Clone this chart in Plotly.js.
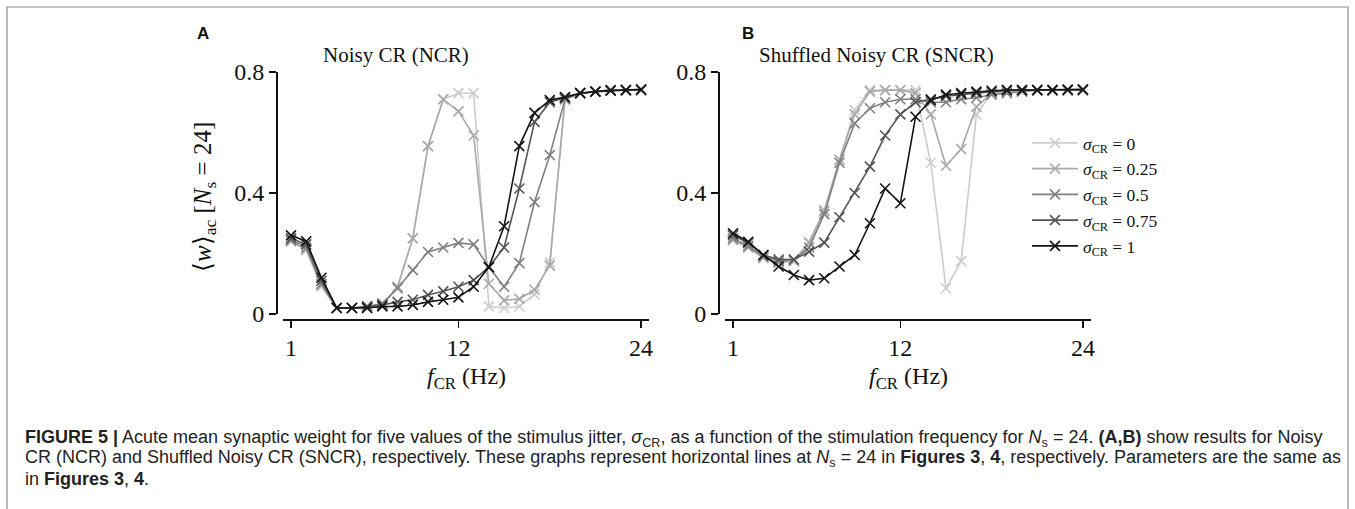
<!DOCTYPE html>
<html>
<head>
<meta charset="utf-8">
<script src="https://cdn.plot.ly/plotly-3.0.1.min.js"></script>
<style>
  html, body { margin: 0; padding: 0; background: #ffffff; }
  #chart { width: 1355px; height: 509px; }
</style>
</head>
<body>
<div id="chart"></div>
<script>
// ---- data ----
const freq = [1,2,3,4,5,6,7,8,9,10,11,12,13,14,15,16,17,18,19,20,21,22,23,24];
const sigmaLabels = ['0', '0.25', '0.5', '0.75', '1'];

// Panel A: Noisy CR (NCR)
const ncr_s0   = [0.24,0.21,0.09,0.02,0.02,0.02,0.03,0.09,0.25,0.555,0.71,0.73,0.73,0.025,0.02,0.025,0.065,0.17,0.71,0.73,0.735,0.74,0.74,0.74];
const ncr_s025 = [0.24,0.215,0.095,0.02,0.02,0.02,0.03,0.09,0.25,0.555,0.71,0.67,0.59,0.10,0.045,0.05,0.08,0.16,0.71,0.73,0.735,0.74,0.74,0.74];
const ncr_s05  = [0.245,0.22,0.10,0.02,0.02,0.025,0.035,0.085,0.145,0.205,0.22,0.235,0.23,0.155,0.09,0.168,0.37,0.525,0.71,0.73,0.735,0.74,0.74,0.74];
const ncr_s075 = [0.25,0.23,0.11,0.02,0.02,0.025,0.03,0.04,0.047,0.063,0.075,0.09,0.112,0.155,0.22,0.415,0.635,0.70,0.715,0.73,0.735,0.74,0.74,0.74];
const ncr_s1   = [0.26,0.24,0.12,0.02,0.02,0.02,0.025,0.025,0.03,0.04,0.047,0.055,0.09,0.155,0.29,0.555,0.665,0.707,0.717,0.73,0.735,0.738,0.74,0.743];

// Panel B: Shuffled Noisy CR (SNCR)
const sncr_s0   = [0.245,0.22,0.185,0.17,0.175,0.239,0.344,0.51,0.674,0.74,0.74,0.74,0.74,0.50,0.085,0.175,0.66,0.73,0.735,0.74,0.74,0.74,0.74,0.74];
const sncr_s025 = [0.245,0.22,0.185,0.17,0.175,0.235,0.34,0.51,0.66,0.735,0.74,0.74,0.73,0.66,0.49,0.545,0.685,0.73,0.735,0.74,0.74,0.74,0.74,0.74];
const sncr_s05  = [0.25,0.225,0.19,0.175,0.18,0.22,0.33,0.50,0.63,0.68,0.70,0.71,0.71,0.70,0.70,0.71,0.715,0.725,0.73,0.735,0.74,0.74,0.74,0.74];
const sncr_s075 = [0.26,0.235,0.195,0.18,0.18,0.206,0.236,0.32,0.40,0.487,0.59,0.66,0.70,0.71,0.72,0.725,0.73,0.735,0.74,0.74,0.74,0.74,0.74,0.74];
const sncr_s1   = [0.267,0.239,0.195,0.157,0.129,0.112,0.118,0.157,0.195,0.30,0.415,0.366,0.652,0.707,0.725,0.73,0.735,0.738,0.74,0.74,0.74,0.74,0.742,0.743];

const xTicks = [1, 12, 24];
const yTicks = [0, 0.4, 0.8];
const yTickText = ['0', '0.4', '0.8'];

// ---- styling ----
const W = 1355, H = 509;
const px = v => v / W;
const py = v => 1 - v / H;
const colors = ['#cccccc', '#a9a9a9', '#808080', '#555555', '#151515'];
const serif = 'Liberation Serif, Times New Roman, serif';
const sans = 'Liberation Sans, Arial, Helvetica, sans-serif';

const ncrSeries = [ncr_s0, ncr_s025, ncr_s05, ncr_s075, ncr_s1];
const sncrSeries = [sncr_s0, sncr_s025, sncr_s05, sncr_s075, sncr_s1];

const traces = [];
function addPanel(series, xa, ya, legend) {
  series.forEach((vals, i) => {
    traces.push({
      x: freq, y: vals, xaxis: xa, yaxis: ya,
      type: 'scatter', mode: 'lines+markers',
      name: '<i>σ</i><sub>CR</sub> = ' + sigmaLabels[i],
      showlegend: legend,
      line: { color: colors[i], width: 1.6 },
      marker: { symbol: 'x-thin-open', size: 10, line: { color: colors[i], width: 1.6 }, color: colors[i] },
      hoverinfo: 'skip'
    });
  });
}
addPanel(ncrSeries, 'x', 'y', false);
addPanel(sncrSeries, 'x2', 'y2', true);

const tickFont = { family: serif, size: 24, color: '#111' };
function xAxis(domain, pos) {
  return {
    domain: domain, range: [0.5, 24.5], anchor: 'free', position: pos,
    tickvals: xTicks, ticktext: xTicks.map(String),
    ticks: 'outside', ticklen: 7, tickwidth: 1.6, tickcolor: '#111',
    showline: true, linecolor: '#111', linewidth: 1.6,
    showgrid: false, zeroline: false, tickfont: tickFont, fixedrange: true
  };
}
function yAxis(domain, pos) {
  return {
    domain: domain, range: [0, 0.8], anchor: 'free', position: pos,
    tickvals: yTicks, ticktext: yTickText,
    ticks: 'outside', ticklen: 7, tickwidth: 1.6, tickcolor: '#111',
    showline: true, linecolor: '#111', linewidth: 1.6,
    showgrid: false, zeroline: false, tickfont: tickFont, fixedrange: true
  };
}

const yDom = [py(314), py(72)];
const xPos = py(319);

function ann(text, x, y, size, family, extra) {
  return Object.assign({
    text: text, x: px(x), y: py(y), xref: 'paper', yref: 'paper', showarrow: false,
    xanchor: 'center', yanchor: 'middle', font: { family: family, size: size, color: '#111' }
  }, extra || {});
}

const layout = {
  width: W, height: H,
  margin: { l: 0, r: 0, t: 0, b: 0 },
  paper_bgcolor: '#ffffff', plot_bgcolor: 'rgba(0,0,0,0)',
  showlegend: true,
  xaxis: xAxis([px(283.4), px(648.7)], xPos),
  yaxis: yAxis(yDom, px(276)),
  xaxis2: xAxis([px(725.4), px(1090.5)], xPos),
  yaxis2: yAxis(yDom, px(718)),
  legend: {
    x: px(1027), y: py(125), xanchor: 'left', yanchor: 'top',
    bgcolor: 'rgba(0,0,0,0)', borderwidth: 0,
    font: { family: serif, size: 17.5, color: '#111' },
    itemwidth: 46, tracegroupgap: 0
  },
  shapes: [
    { type: 'rect', xref: 'paper', yref: 'paper', x0: px(7), x1: px(1348), y0: py(520), y1: py(7),
      line: { color: '#8a8a8a', width: 1.2 }, fillcolor: 'rgba(0,0,0,0)' }
  ],
  annotations: [
    ann('<b>A</b>', 203, 34, 17, sans),
    ann('<b>B</b>', 748, 34, 17, sans),
    ann('Noisy CR (NCR)', 396, 55, 21, serif),
    ann('Shuffled Noisy CR (SNCR)', 876, 55, 21, serif),
    ann('⟨<i>w</i>⟩<sub>ac</sub> [<i>N</i><sub>s</sub> = 24]', 205, 197, 25, serif, { textangle: -90 }),
    ann('<i>f</i><sub>CR</sub> (Hz)', 466, 378, 24, serif),
    ann('<i>f</i><sub>CR</sub> (Hz)', 908, 378, 24, serif),
    ann('<b>FIGURE 5 |</b> Acute mean synaptic weight for five values of the stimulus jitter, <i>σ</i><sub>CR</sub>, as a function of the stimulation frequency for <i>N</i><sub>s</sub> = 24. <b>(A,B)</b> show results for Noisy',
      23, 438, 18, sans, { xanchor: 'left', font: { family: sans, size: 18, color: '#222' } }),
    ann('CR (NCR) and Shuffled Noisy CR (SNCR), respectively. These graphs represent horizontal lines at <i>N</i><sub>s</sub> = 24 in <b>Figures 3</b>, <b>4</b>, respectively. Parameters are the same as',
      23, 458.5, 18, sans, { xanchor: 'left', font: { family: sans, size: 18, color: '#222' } }),
    ann('in <b>Figures 3</b>, <b>4</b>.',
      23, 479, 18, sans, { xanchor: 'left', font: { family: sans, size: 18, color: '#222' } })
  ]
};

Plotly.newPlot('chart', traces, layout, { staticPlot: true, displayModeBar: false });
</script>
</body>
</html>
